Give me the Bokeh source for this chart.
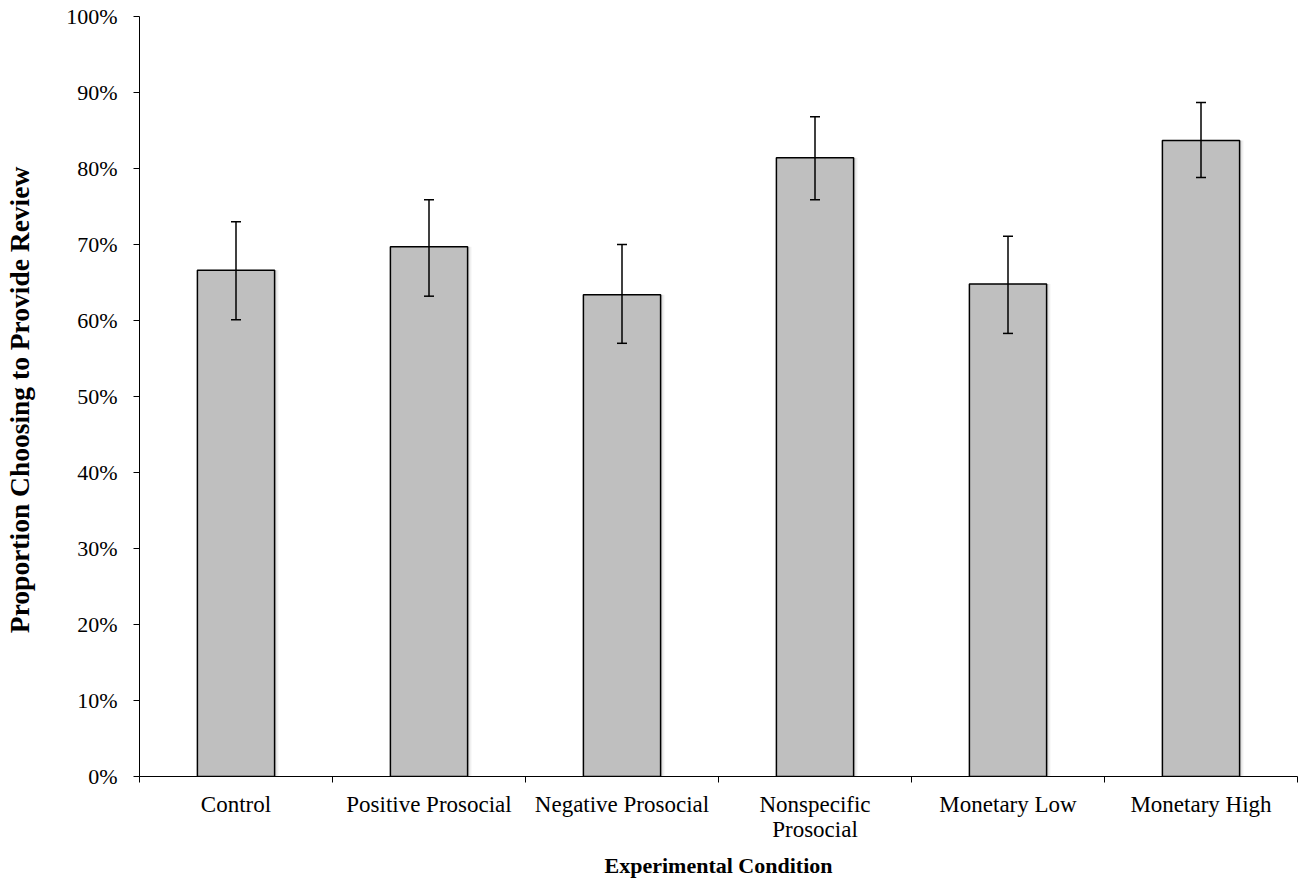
from bokeh.plotting import figure
from bokeh.models import ColumnDataSource, FixedTicker, Whisker, TeeHead, Range1d, NumeralTickFormatter
from bokeh.embed import file_html
from bokeh.resources import INLINE

categories = ["Control", "Positive Prosocial", "Negative Prosocial",
              "Nonspecific\nProsocial", "Monetary Low", "Monetary High"]
values = [0.666, 0.697, 0.634, 0.814, 0.648, 0.837]
lower = [0.601, 0.632, 0.570, 0.759, 0.583, 0.788]
upper = [0.730, 0.759, 0.700, 0.868, 0.711, 0.887]
y_ticks = [0.0, 0.1, 0.2, 0.3, 0.4, 0.5, 0.6, 0.7, 0.8, 0.9, 1.0]

n = len(categories)
xs = [i + 0.5 for i in range(n)]
FONT = "Liberation Serif"

src = ColumnDataSource(dict(x=xs, top=values, lower=lower, upper=upper,
                            xs1=[x + 0.010 for x in xs], xs2=[x + 0.020 for x in xs]))

p = figure(width=1306, height=883, output_backend="svg", toolbar_location=None,
           x_range=Range1d(0, n), y_range=Range1d(0, 1),
           min_border_left=139, min_border_top=16, min_border_bottom=107, min_border_right=9)
p.outline_line_color = None
p.grid.visible = False
p.background_fill_color = "white"
p.border_fill_color = "white"

# soft shadow
p.vbar(x="xs2", top="top", bottom=0, width=0.4, source=src, fill_color="#000000",
       fill_alpha=0.06, line_color=None)
p.vbar(x="xs1", top="top", bottom=0, width=0.4, source=src, fill_color="#000000",
       fill_alpha=0.10, line_color=None)
# bars
p.vbar(x="x", top="top", bottom=0, width=0.4, source=src, fill_color="#BFBFBF",
       line_color="black", line_width=1.5)

w = Whisker(base="x", upper="upper", lower="lower", source=src, level="overlay",
            line_color="black", line_width=1.5,
            upper_head=TeeHead(size=10, line_color="black", line_width=1.5),
            lower_head=TeeHead(size=10, line_color="black", line_width=1.5))
p.add_layout(w)

# x axis
xa = p.xaxis[0]
xa.ticker = FixedTicker(ticks=xs, minor_ticks=list(range(n + 1)))
xa.major_label_overrides = {x: c for x, c in zip(xs, categories)}
xa.major_tick_out = 0
xa.major_tick_in = 0
xa.minor_tick_out = 6
xa.minor_tick_in = 0
xa.minor_tick_line_color = "black"
xa.axis_line_color = "black"
xa.major_label_text_font = FONT
xa.major_label_text_font_size = "23px"
xa.major_label_text_color = "black"
xa.major_label_text_line_height = 1.0
xa.major_label_standoff = 9
xa.axis_label = "Experimental Condition"
xa.axis_label_text_font = FONT
xa.axis_label_text_font_size = "22px"
xa.axis_label_text_font_style = "bold"
xa.axis_label_text_color = "black"
xa.axis_label_standoff = 8

# y axis
ya = p.yaxis[0]
ya.ticker = FixedTicker(ticks=y_ticks, minor_ticks=[])
ya.formatter = NumeralTickFormatter(format="0%")
ya.major_tick_out = 6
ya.major_tick_in = 0
ya.major_tick_line_color = "black"
ya.axis_line_color = "black"
ya.major_label_text_font = FONT
ya.major_label_text_font_size = "22px"
ya.major_label_text_color = "black"
ya.major_label_standoff = 16
ya.axis_label = "Proportion Choosing to  Provide Review"
ya.axis_label_text_font = FONT
ya.axis_label_text_font_size = "27.5px"
ya.axis_label_text_font_style = "bold"
ya.axis_label_text_color = "black"
ya.axis_label_standoff = 28

open("out.html", "w").write(file_html(p, INLINE))
